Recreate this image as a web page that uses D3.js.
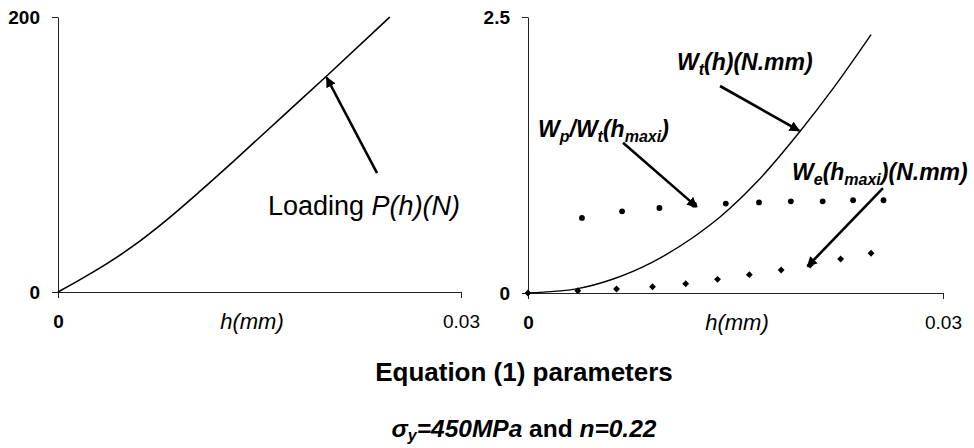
<!DOCTYPE html>
<html>
<head>
<meta charset="utf-8">
<script src="https://cdn.jsdelivr.net/npm/d3@7"></script>
<style>
  body { margin: 0; background: #fff; }
  svg { display: block; font-family: "Liberation Sans", Arial, sans-serif; }
  .axis path, .axis line { stroke: #222; stroke-width: 1; }
  .axis text { fill: #000; font-weight: bold; font-size: 19px; }
</style>
</head>
<body>
<svg id="svg" width="974" height="448"></svg>
<script>
// left panel: loading curve P(h)
const loadH = [0, 0.002, 0.0037, 0.0056, 0.0081, 0.0106, 0.013, 0.0168, 0.0201, 0.0247];
const loadP = [0, 11, 21, 33.5, 52.5, 73.5, 94.5, 128.5, 158, 200];

// right panel: total work Wt(h)
const workH = [0, 0.0036, 0.006, 0.009, 0.0119, 0.0139, 0.0165, 0.0197, 0.0221, 0.0248];
const workW = [0, 0.04, 0.12, 0.28, 0.5, 0.69, 1.0, 1.47, 1.86, 2.34];

// Wp/Wt(hmaxi) points (dots)
const ratioH = [0.0039, 0.0068, 0.0095, 0.012, 0.0143, 0.0167, 0.019, 0.0213, 0.0235, 0.0257];
const ratioV = [0.68, 0.74, 0.77, 0.80, 0.81, 0.82, 0.83, 0.83, 0.84, 0.84];

// We(hmaxi) points (diamonds)
const elasH = [0, 0.0036, 0.0064, 0.009, 0.0114, 0.0137, 0.016, 0.0183, 0.0204, 0.0226, 0.0248];
const elasV = [0, 0.02, 0.036, 0.057, 0.084, 0.124, 0.166, 0.208, 0.254, 0.308, 0.36];

const leftYTicks = [0, 200];
const rightYTicks = [0, 2.5];
const xTicks = [0, 0.03];

const svg = d3.select('#svg');

// scales
const xL = d3.scaleLinear().domain([0, 0.03]).range([58, 461]);
const yL = d3.scaleLinear().domain([0, 200]).range([292, 17]);
const xR = d3.scaleLinear().domain([0, 0.03]).range([528, 943]);
const yR = d3.scaleLinear().domain([0, 2.5]).range([293, 17]);

// arrowhead
svg.append('defs').append('marker')
  .attr('id', 'arr')
  .attr('viewBox', '0 0 10 10')
  .attr('refX', 9).attr('refY', 5)
  .attr('markerWidth', 4).attr('markerHeight', 4)
  .attr('markerUnits', 'strokeWidth')
  .attr('orient', 'auto')
  .append('path')
  .attr('d', 'M0,0L10,5L0,10z')
  .attr('fill', '#000');

function drawAxes(x, y, yTicks, yFmt, y0, labelX) {
  svg.append('g')
    .attr('class', 'axis')
    .attr('transform', 'translate(' + x.range()[0] + ',0)')
    .call(d3.axisLeft(y).tickValues(yTicks).tickFormat(yFmt).tickSizeOuter(0).tickPadding(12));

  const gx = svg.append('g')
    .attr('class', 'axis')
    .attr('transform', 'translate(0,' + y0 + ')')
    .call(d3.axisBottom(x).tickValues(xTicks).tickFormat(d => d === 0 ? '0' : '0.03')
      .tickSizeOuter(0).tickPadding(17));
  gx.selectAll('.tick text').style('font-weight', d => d === 0 ? 'bold' : 'normal');

  svg.append('text')
    .attr('x', labelX)
    .attr('y', y0 + 37)
    .attr('text-anchor', 'middle')
    .style('font-style', 'italic')
    .style('font-size', '22px')
    .text('h(mm)');
}

drawAxes(xL, yL, leftYTicks, d3.format('d'), yL(0), 252);
drawAxes(xR, yR, rightYTicks, d => d === 0 ? '0' : '2.5', yR(0), 737);

const line = (x, y) => d3.line().x(d => x(d[0])).y(d => y(d[1])).curve(d3.curveMonotoneX);

svg.append('path')
  .datum(d3.zip(loadH, loadP))
  .attr('d', line(xL, yL))
  .attr('fill', 'none').attr('stroke', '#000').attr('stroke-width', 1.6);

svg.append('path')
  .datum(d3.zip(workH, workW))
  .attr('d', line(xR, yR))
  .attr('fill', 'none').attr('stroke', '#000').attr('stroke-width', 1.4);

svg.append('g').selectAll('circle')
  .data(d3.zip(ratioH, ratioV))
  .join('circle')
  .attr('cx', d => xR(d[0])).attr('cy', d => yR(d[1]))
  .attr('r', 2.9).attr('fill', '#000');

svg.append('g').selectAll('path')
  .data(d3.zip(elasH, elasV))
  .join('path')
  .attr('transform', d => 'translate(' + xR(d[0]) + ',' + yR(d[1]) + ')')
  .attr('d', d3.symbol(d3.symbolDiamond2, 30))
  .attr('fill', '#000');

// annotation arrows, endpoints in data units
const arrows = [
  { x: xL, y: yL, from: [0.02375, 86.5], to: [0.0200, 156] },
  { x: xR, y: yR, from: [0.01388, 1.875], to: [0.0196, 1.47] },
  { x: xR, y: yR, from: [0.00687, 1.36], to: [0.0122, 0.78] },
  { x: xR, y: yR, from: [0.02566, 0.95], to: [0.0202, 0.24] }
];
svg.append('g').selectAll('line')
  .data(arrows)
  .join('line')
  .attr('x1', d => d.x(d.from[0])).attr('y1', d => d.y(d.from[1]))
  .attr('x2', d => d.x(d.to[0])).attr('y2', d => d.y(d.to[1]))
  .attr('stroke', '#000').attr('stroke-width', 2.6)
  .attr('marker-end', 'url(#arr)');

// labels
const lab = svg.append('text').attr('x', 268).attr('y', 215).style('font-size', '27px');
lab.append('tspan').text('Loading ');
lab.append('tspan').style('font-style', 'italic').text('P(h)(N)');

function subLabel(x, y, parts) {
  const t = svg.append('text').attr('x', x).attr('y', y)
    .style('font-size', '23px').style('font-weight', 'bold').style('font-style', 'italic');
  parts.forEach(p => {
    const s = t.append('tspan').text(p[0]);
    if (p[1] === 'sub') s.attr('dy', 5).style('font-size', '16px');
    if (p[1] === 'up') s.attr('dy', -5);
  });
  return t;
}
subLabel(677, 70, [['W'], ['t', 'sub'], ['(h)(N.mm)', 'up']]);
subLabel(538, 137, [['W'], ['p', 'sub'], ['/W', 'up'], ['t', 'sub'], ['(h', 'up'], ['maxi', 'sub'], [')', 'up']]);
subLabel(792, 180, [['W'], ['e', 'sub'], ['(h', 'up'], ['maxi', 'sub'], [')(N.mm)', 'up']]);

svg.append('text')
  .attr('x', 524).attr('y', 381)
  .attr('text-anchor', 'middle')
  .style('font-size', '26px').style('font-weight', 'bold')
  .text('Equation (1) parameters');

const bt = svg.append('text')
  .attr('x', 524).attr('y', 437)
  .attr('text-anchor', 'middle')
  .style('font-size', '24.5px').style('font-weight', 'bold');
bt.append('tspan').style('font-style', 'italic').text('σ');
bt.append('tspan').style('font-style', 'italic').style('font-size', '16px').attr('dy', 4).text('y');
bt.append('tspan').style('font-style', 'italic').attr('dy', -4).text('=450MPa');
bt.append('tspan').text(' and ');
bt.append('tspan').style('font-style', 'italic').text('n=0.22');
</script>
</body>
</html>
